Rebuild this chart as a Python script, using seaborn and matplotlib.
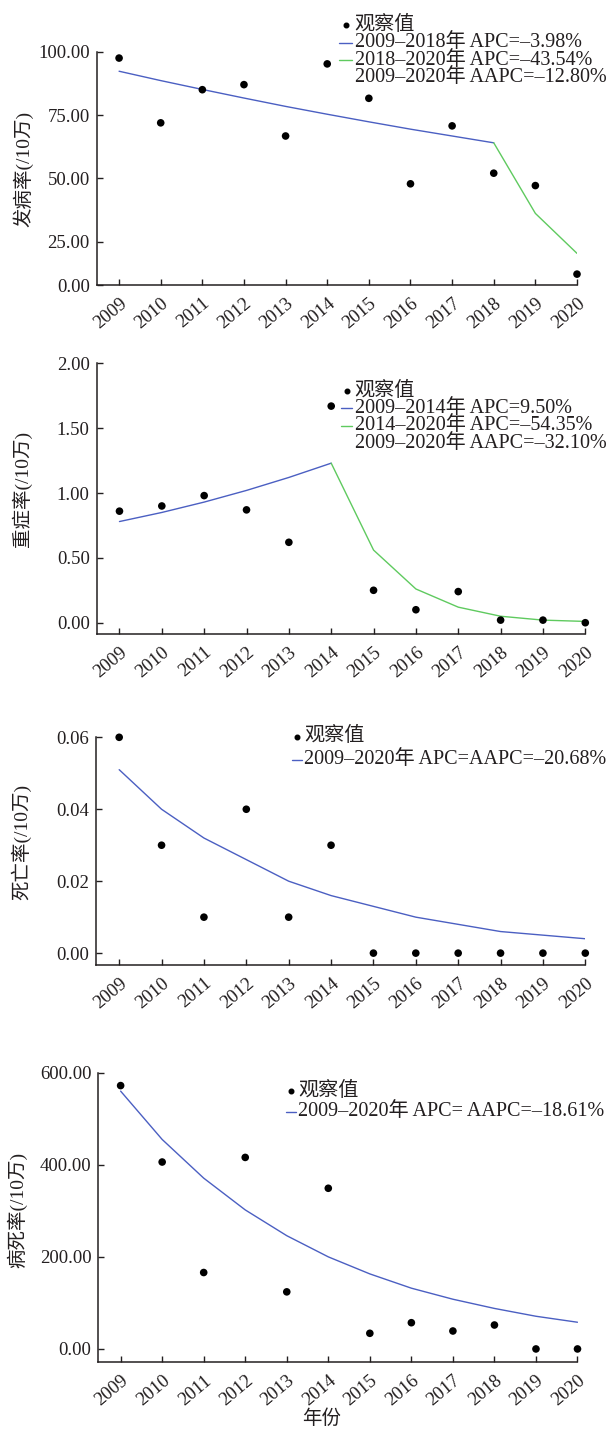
import matplotlib
matplotlib.use('Agg')
import matplotlib.pyplot as plt
import seaborn as sns
from matplotlib.lines import Line2D

# ---------------- data ----------------
years = [2009, 2010, 2011, 2012, 2013, 2014, 2015, 2016, 2017, 2018, 2019, 2020]

# incidence
inc_obs = [97.6, 72.0, 85.1, 87.1, 66.8, 95.3, 81.7, 47.9, 70.8, 52.1, 47.2, 12.2]
inc_years_a = [2009, 2010, 2011, 2012, 2013, 2014, 2015, 2016, 2017, 2018]
inc_fit_a = [92.4, 88.7, 85.2, 81.8, 78.5, 75.4, 72.4, 69.5, 66.8, 64.1]
inc_years_b = [2018, 2019, 2020]
inc_fit_b = [64.1, 36.2, 20.4]
inc_legend = ['观察值', '2009–2018年 APC=–3.98%', '2018–2020年 APC=–43.54%',
              '2009–2020年 AAPC=–12.80%']

# severe cases
sev_obs = [0.86, 0.90, 0.98, 0.87, 0.62, 1.67, 0.25, 0.10, 0.24, 0.02, 0.02, 0.00]
sev_years_a = [2009, 2010, 2011, 2012, 2013, 2014]
sev_fit_a = [0.78, 0.85, 0.93, 1.02, 1.12, 1.23]
sev_years_b = [2014, 2015, 2016, 2017, 2018, 2019, 2020]
sev_fit_b = [1.23, 0.56, 0.26, 0.12, 0.05, 0.02, 0.01]
sev_legend = ['观察值', '2009–2014年 APC=9.50%', '2014–2020年 APC=–54.35%',
              '2009–2020年 AAPC=–32.10%']

# deaths
death_obs = [0.06, 0.03, 0.01, 0.04, 0.01, 0.03, 0.0, 0.0, 0.0, 0.0, 0.0, 0.0]
death_fit = [0.051, 0.040, 0.032, 0.026, 0.020, 0.016, 0.013, 0.010, 0.008, 0.006, 0.005, 0.004]
death_legend = ['观察值', '2009–2020年 APC=AAPC=–20.68%']

# case fatality
fat_obs = [572, 406, 166, 416, 124, 349, 34, 57, 39, 52, 0, 0]
fat_fit = [560, 455, 371, 302, 246, 200, 163, 132, 108, 88, 71, 58]
fat_legend = ['观察值', '2009–2020年 APC= AAPC=–18.61%']

# ---------------- style ----------------
sns.set_style('ticks')
plt.rcParams['font.family'] = ['Liberation Serif', 'Noto Sans CJK SC']
plt.rcParams['axes.unicode_minus'] = False

INK = '#231f20'
BLUE = '#4b5fc2'
GREEN = '#5fca5f'
W, H = 611, 1429

fig = plt.figure(figsize=(W / 100, H / 100), dpi=100)


def px_axes(l, r, t, b):
    return fig.add_axes([l / W, 1 - b / H, (r - l) / W, (b - t) / H])


def style(ax, ylim, yticks, yticklabels, ylabel, lab_x, lab_y):
    ax.set_xlim(2008.46, 2020)
    ax.set_ylim(*ylim)
    ax.set_yticks(yticks)
    ax.set_yticklabels(yticklabels)
    ax.set_xticks(years)
    ax.set_xticklabels([str(y) for y in years], rotation=40, ha='right',
                       rotation_mode='anchor')
    ax.tick_params(direction='in', length=4, width=1, colors=INK,
                   labelsize=13.5, pad=5)
    ax.tick_params(axis='x', pad=7)
    for s in ['top', 'right']:
        ax.spines[s].set_visible(False)
    for s in ['left', 'bottom']:
        ax.spines[s].set_color(INK)
        ax.spines[s].set_linewidth(1.1)
    ax.set_ylabel(ylabel, fontsize=14, color=INK)
    ax.yaxis.set_label_coords(lab_x, lab_y)
    ax.set_xlabel('')


# hand-placed key (the original packs its rows tighter than ax.legend allows)
def key(labels, kinds, x_hand, x_text, y_first, dy, fs=14.5):
    for i, (lab, kind) in enumerate(zip(labels, kinds)):
        y = 1 - (y_first + i * dy) / H
        fig.text(x_text / W, y, lab, fontsize=fs, color=INK,
                 ha='left', va='center')
        if kind == 'dot':
            xc = (x_hand[0] + x_hand[1]) / 2
            fig.add_artist(Line2D([xc / W], [y], ls='none', marker='o',
                                  color='black', markersize=3.3,
                                  transform=fig.transFigure))
        elif kind is not None:
            fig.add_artist(Line2D([x_hand[0] / W, x_hand[1] / W], [y, y],
                                  color=kind, lw=1,
                                  transform=fig.transFigure))


def draw_obs(ax, obs):
    sns.scatterplot(x=years, y=obs, color='black', s=30, edgecolor='none',
                    clip_on=False, zorder=3, ax=ax)


# ---------------- panel 1 ----------------
ax1 = px_axes(96.6, 577, 52, 285)
sns.lineplot(x=inc_years_a, y=inc_fit_a, color=BLUE, lw=1, ax=ax1)
sns.lineplot(x=inc_years_b, y=inc_fit_b, color=GREEN, lw=1, ax=ax1)
draw_obs(ax1, inc_obs)
style(ax1, (7.9, 100), [7.9, 25, 50, 75, 100],
      ['0.00', '25.00', '50.00', '75.00', '100.00'],
      '发病率(/10万)', -0.132, 0.5)
key(inc_legend, ['dot', BLUE, GREEN, None], (339, 352.5), 354.6, 25, 17.6)

# ---------------- panel 2 ----------------
ax2 = px_axes(96.6, 585.3, 363.3, 634)
sns.lineplot(x=sev_years_a, y=sev_fit_a, color=BLUE, lw=1, ax=ax2)
sns.lineplot(x=sev_years_b, y=sev_fit_b, color=GREEN, lw=1, ax=ax2)
draw_obs(ax2, sev_obs)
style(ax2, (-0.087, 2.0), [0, 0.5, 1.0, 1.5, 2.0],
      ['0.00', '0.50', '1.00', '1.50', '2.00'],
      '重症率(/10万)', -0.132, 0.536)
key(sev_legend, ['dot', BLUE, GREEN, None], (341, 352.5), 354.6, 391, 17.4)

# ---------------- panel 3 ----------------
ax3 = px_axes(96.3, 585.3, 737.3, 965)
sns.lineplot(x=years, y=death_fit, color=BLUE, lw=1, ax=ax3)
draw_obs(ax3, death_obs)
style(ax3, (-0.0033, 0.06), [0, 0.02, 0.04, 0.06],
      ['0.00', '0.02', '0.04', '0.06'],
      '死亡率(/10万)', -0.132, 0.541)
key(death_legend, ['dot', BLUE], (292, 302), 304, 736.7, 23.3)

# ---------------- panel 4 ----------------
ax4 = px_axes(98.2, 577.5, 1072.7, 1362.3)
sns.lineplot(x=years, y=fat_fit, color=BLUE, lw=1, ax=ax4)
draw_obs(ax4, fat_obs)
style(ax4, (-29, 600), [0, 200, 400, 600],
      ['0.00', '200.00', '400.00', '600.00'],
      '病死率(/10万)', -0.148, 0.526)
key(fat_legend, ['dot', BLUE], (286, 296), 298, 1091, 20.7)
ax4.set_xlabel('年份', fontsize=14, color=INK)
ax4.xaxis.set_label_coords((321.5 - 98.2) / 479.3, -0.163)

fig.savefig('out.png', dpi=100)
plt.close()
